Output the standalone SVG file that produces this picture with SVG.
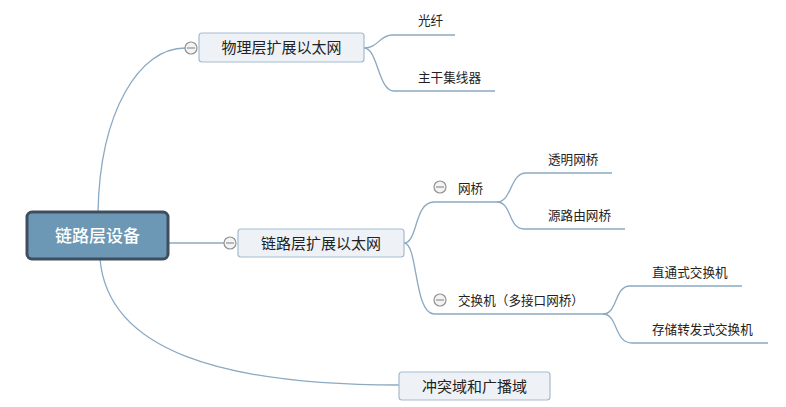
<svg xmlns="http://www.w3.org/2000/svg" width="786" height="407" viewBox="0 0 786 407">
<style>
.bg{fill:#ffffff}
.ln{fill:none;stroke:#8ba9c2;stroke-width:1.3}
.node{fill:#eef2f7;stroke:#a3bbd0;stroke-width:1.2}
.root{fill:#6c97b5;stroke:#3e4e5e;stroke-width:3}
.t{font-family:"Noto Sans CJK SC","Noto Sans",sans-serif;fill:#222}
.n{font-size:15px}
.c{font-size:12.6px}
.rt{font-size:17px;fill:#ffffff;font-weight:500}
.col{fill:#f4f4f4;stroke:#909090;stroke-width:1.2}
.colm{stroke:#909090;stroke-width:1.2}
</style>
<rect class="bg" width="786" height="407"/>
<g id="connectors">
<path class="ln" d="M98,212 C100,110 140,48 185,48"/>
<path class="ln" d="M168,243 L224,243"/>
<path class="ln" d="M100,259 C108,350 220,385 399,385"/>
<path class="ln" d="M364,48 C378,48 380,35 392,35 L455,35"/>
<path class="ln" d="M364,48 C378,48 378,91 394,91 L495,91"/>
<path class="ln" d="M404,243 C418,243 414,202 434,202 L497,202"/>
<path class="ln" d="M404,243 C418,243 414,314 434,314 L603,314"/>
<path class="ln" d="M497,202 C512,202 510,173 526,173 L612,173"/>
<path class="ln" d="M497,202 C512,202 508,229 524,229 L625,229"/>
<path class="ln" d="M603,314 C618,314 614,286 630,286 L742,286"/>
<path class="ln" d="M603,314 C618,314 614,343 632,343 L768,343"/>
</g>
<g id="root">
<rect class="root" x="27" y="212" width="141" height="47" rx="5"/>
<text class="t rt" x="97.5" y="242" text-anchor="middle">链路层设备</text>
</g>
<g id="n-phy">
<rect class="node" x="199" y="33" width="165" height="29" rx="3"/>
<text class="t n" x="281.5" y="53" text-anchor="middle">物理层扩展以太网</text>
<circle class="col" cx="191" cy="48" r="6"/>
<line class="colm" x1="187" y1="48" x2="195" y2="48"/>
</g>
<g id="n-link">
<rect class="node" x="238" y="229" width="166" height="28" rx="3"/>
<text class="t n" x="321" y="248.5" text-anchor="middle">链路层扩展以太网</text>
<circle class="col" cx="230" cy="243" r="6"/>
<line class="colm" x1="226" y1="243" x2="234" y2="243"/>
</g>
<g id="n-domain">
<rect class="node" x="399" y="372" width="151" height="28" rx="3"/>
<text class="t n" x="474.5" y="391.5" text-anchor="middle">冲突域和广播域</text>
</g>
<g id="n-fiber"><text class="t c" x="418" y="25">光纤</text></g>
<g id="n-hub"><text class="t c" x="418" y="82">主干集线器</text></g>
<g id="n-bridge">
<text class="t c" x="458" y="193">网桥</text>
<circle class="col" cx="440" cy="187" r="6"/>
<line class="colm" x1="436" y1="187" x2="444" y2="187"/>
</g>
<g id="n-switch">
<text class="t c" x="458" y="305">交换机（多接口网桥）</text>
<circle class="col" cx="440" cy="300" r="6"/>
<line class="colm" x1="436" y1="300" x2="444" y2="300"/>
</g>
<g id="n-transparent"><text class="t c" x="548" y="164">透明网桥</text></g>
<g id="n-source"><text class="t c" x="548" y="220">源路由网桥</text></g>
<g id="n-cut"><text class="t c" x="652" y="277">直通式交换机</text></g>
<g id="n-store"><text class="t c" x="652" y="334">存储转发式交换机</text></g>
</svg>
